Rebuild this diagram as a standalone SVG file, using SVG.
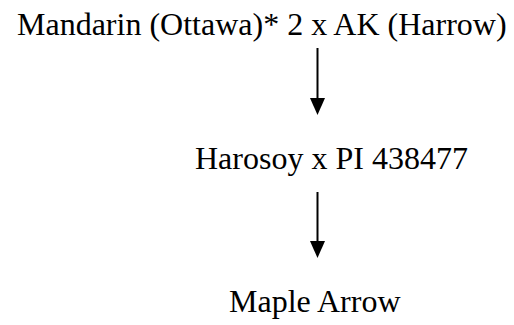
<svg xmlns="http://www.w3.org/2000/svg" width="514" height="325" viewBox="0 0 514 325">
  <defs>
    <style>
      .label { font-family: "Liberation Serif", "Times New Roman", serif; font-size: 32px; fill: #000; }
      .edge { stroke: #000; stroke-width: 2; fill: none; }
      .head { fill: #000; stroke: none; }
    </style>
  </defs>
  <rect width="514" height="325" fill="#fff"/>
  <g id="node-parents">
    <text class="label" x="17" y="35">Mandarin (Ottawa)* 2 x AK (Harrow)</text>
  </g>
  <g id="node-cross">
    <text class="label" x="195" y="169">Harosoy x PI 438477</text>
  </g>
  <g id="node-cultivar">
    <text class="label" x="229" y="312">Maple Arrow</text>
  </g>
  <g id="connectors">
    <line class="edge" x1="317.5" y1="48" x2="317.5" y2="100"/>
    <polygon class="head" points="310,98 325,98 317.5,115"/>
    <line class="edge" x1="317.5" y1="192" x2="317.5" y2="243"/>
    <polygon class="head" points="310,241 325,241 317.5,258"/>
  </g>
</svg>
